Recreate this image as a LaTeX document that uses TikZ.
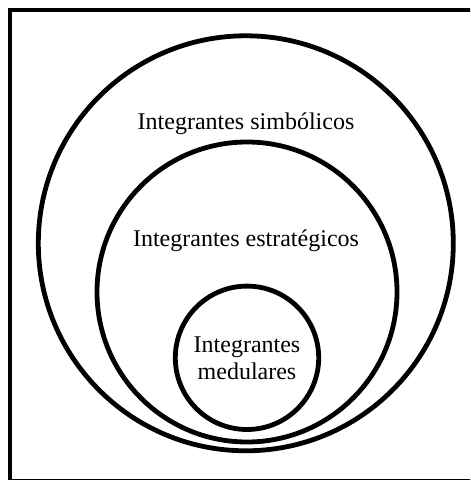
\documentclass[tikz,border=0pt]{standalone}
\usepackage{fontspec}
\setmainfont{Liberation Serif}
\usetikzlibrary{positioning}
\tikzset{ring/.style={circle,draw=black,line width=2.4pt,fill=none,
inner sep=0pt}}
\tikzset{ringtext/.style={rectangle,draw=none,inner sep=0pt,
align=center,font=\fontsize{12}{13.5}\selectfont}}
\tikzset{frame/.style={draw=black,line width=2.3pt}}

\begin{document}
\begin{tikzpicture}[x=0.5pt,y=-0.5pt]
        \useasboundingbox (0,0) rectangle (470,480);
        \clip (0,0) rectangle (470,480);

        \draw[frame] (10,10) rectangle (490,481);

        \node[ring,minimum size=207.5pt] (simb) at (245.8,243.3) {};
        \node[ring,minimum size=150pt] (estr) at (247,292) {};
        \node[ring,minimum size=71.7pt] (medu) at (247,357.8) {};

        \node[ringtext,anchor=base] (simbtxt) at (246,130) {Integrantes simbólicos};
        \node[ringtext,anchor=base] (estrtxt) at (246,246.5) {Integrantes estratégicos};
        \node[ringtext] (medutxt) at (medu) {Integrantes\\medulares};

\end{tikzpicture}
\end{document}
